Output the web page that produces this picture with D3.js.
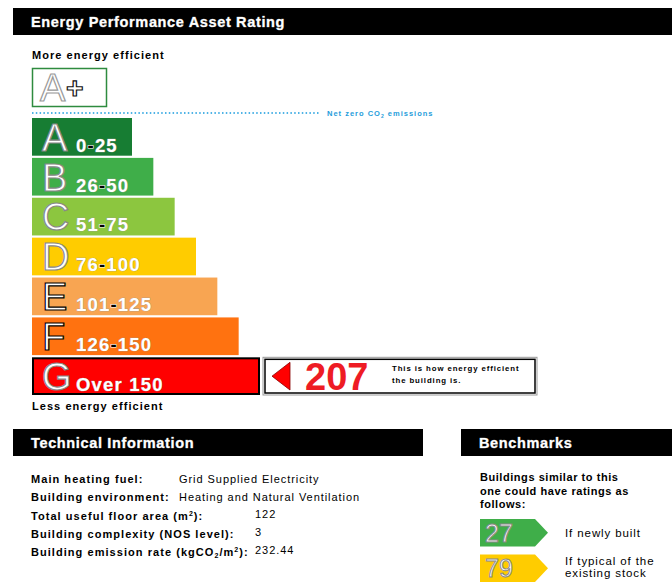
<!DOCTYPE html>
<html>
<head>
<meta charset="utf-8">
<script src="https://cdn.jsdelivr.net/npm/d3@7"></script>
<style>
  body { margin: 0; background: #fff; }
  text { font-family: "Liberation Sans", Arial, sans-serif; }
</style>
</head>
<body>
<div id="chart"></div>
<script>
// rating bands, top (best) to bottom (worst)
var bandLetters = ['A', 'B', 'C', 'D', 'E', 'F', 'G'];
var bandRanges = ['0-25', '26-50', '51-75', '76-100', '101-125', '126-150', 'Over 150'];
var bandColors = ['#177d33', '#3fae49', '#8cc63f', '#ffcc00', '#f8a552', '#ff7210', '#ff0000'];
var rating = 207;
var ratingBand = 'G';

var benchValues = [27, 79];
var benchColors = ['#3fae49', '#ffcc00'];
var benchLabels = [['If newly built'], ['If typical of the', 'existing stock']];

var techLabels = ['Main heating fuel:', 'Building environment:', 'Total useful floor area (m²):',
                  'Building complexity (NOS level):', 'Building emission rate (kgCO₂/m²):'];
var techValues = ['Grid Supplied Electricity', 'Heating and Natural Ventilation', '122', '3', '232.44'];

var W = 672, H = 583;
var svg = d3.select('#chart').append('svg')
  .attr('width', W)
  .attr('height', H);

// header bars
function header(x, y, w, label) {
  svg.append('rect').attr('x', x).attr('y', y).attr('width', w).attr('height', 27).attr('fill', '#000');
  svg.append('text')
    .attr('x', x + 18).attr('y', y + 19)
    .attr('fill', '#fff').attr('stroke', '#999').attr('stroke-width', 0.6)
    .style('paint-order', 'stroke')
    .style('font-weight', 'bold').style('font-size', '14.5px')
    .style('letter-spacing', '0.65px')
    .text(label);
}
header(13, 8, 659, 'Energy Performance Asset Rating');
header(13, 429, 410, 'Technical Information');
header(461, 429, 211, 'Benchmarks');

svg.append('text').attr('x', 32).attr('y', 59)
  .style('font-weight', 'bold').style('font-size', '11px').style('letter-spacing', '1.05px')
  .text('More energy efficient');

// A+ box
svg.append('rect').attr('x', 32.5).attr('y', 68.5).attr('width', 74).attr('height', 38)
  .attr('fill', '#fff').attr('stroke', '#2e8b3f').attr('stroke-width', 1.5);
svg.append('text').attr('x', 40).attr('y', 101)
  .attr('fill', '#fff').attr('stroke', '#999').attr('stroke-width', 1.2)
  .style('font-size', '38px').text('A');
svg.append('text').attr('x', 66).attr('y', 98)
  .attr('fill', '#fff').attr('stroke', '#111').attr('stroke-width', 1.2)
  .style('font-weight', 'bold').style('font-size', '30px').text('+');

// net zero line
svg.append('line').attr('x1', 32).attr('x2', 320).attr('y1', 113).attr('y2', 113)
  .attr('stroke', '#4fb3e6').attr('stroke-width', 2).attr('stroke-dasharray', '1.5,2.3');
var nz = svg.append('text').attr('x', 327).attr('y', 116)
  .attr('fill', '#1f9ddb').style('font-weight', 'bold').style('font-size', '7.5px')
  .style('letter-spacing', '1px');
nz.append('tspan').text('Net zero CO');
nz.append('tspan').attr('dy', 2).style('font-size', '5px').text('2');
nz.append('tspan').attr('dy', -2).text(' emissions');

// scales for bands
var y = d3.scaleBand().domain(bandLetters).range([118, 395]).paddingInner(0.055);
var w = d3.scaleLinear().domain([0, 6]).range([100, 228]);
var x0 = 32;

var bands = svg.selectAll('g.band').data(bandLetters).enter().append('g').classed('band', true);
bands.append('rect')
  .attr('x', function(d) { return d === ratingBand ? x0 + 1 : x0; })
  .attr('y', function(d) { return d === ratingBand ? y(d) + 1 : y(d); })
  .attr('width', function(d, i) { return d === ratingBand ? w(i) - 2 : w(i); })
  .attr('height', function(d) { return d === ratingBand ? y.bandwidth() - 2 : y.bandwidth(); })
  .attr('fill', function(d, i) { return bandColors[i]; })
  .attr('stroke', function(d) { return d === ratingBand ? '#000' : 'none'; })
  .attr('stroke-width', 2);
bands.append('text')
  .attr('x', x0 + 10)
  .attr('y', function(d) { return y(d) + y.bandwidth() - 5; })
  .attr('fill', '#fff')
  .attr('stroke', function(d, i) { return (i === 4 || i === 5) ? '#000' : '#888'; })
  .attr('stroke-width', 1.2)
  .style('font-size', '38px')
  .text(function(d) { return d; });
var rt = bands.append('text')
  .attr('x', x0 + 44)
  .attr('y', function(d) { return y(d) + y.bandwidth() - 4; })
  .attr('fill', '#fff').attr('stroke', '#999').attr('stroke-width', 0.6)
  .style('paint-order', 'stroke')
  .style('font-weight', 'bold').style('font-size', '18.5px')
  .style('letter-spacing', '1.2px');
rt.each(function(d, i) {
  var t = d3.select(this);
  var parts = bandRanges[i].split('-');
  t.append('tspan').text(parts[0]);
  if (parts.length > 1) {
    t.append('tspan').attr('fill', '#000').attr('stroke', '#fff').attr('stroke-width', 1.2).text('-');
    t.append('tspan').text(parts[1]);
  }
});

svg.append('text').attr('x', 32).attr('y', 410)
  .style('font-weight', 'bold').style('font-size', '11px').style('letter-spacing', '1.05px')
  .text('Less energy efficient');

// rating marker
var ri = bandLetters.indexOf(ratingBand);
var rx = x0 + w(ri) + 3, ry = y(ratingBand);
svg.append('rect').attr('x', rx).attr('y', ry).attr('width', 274).attr('height', y.bandwidth())
  .attr('fill', '#fff').attr('stroke', '#999').attr('stroke-width', 1);
svg.append('rect').attr('x', rx + 2).attr('y', ry + 2).attr('width', 270).attr('height', y.bandwidth() - 4)
  .attr('fill', 'none').attr('stroke', '#000').attr('stroke-width', 1.5);
svg.append('path')
  .attr('d', 'M' + (rx + 9) + ',' + (ry + y.bandwidth() / 2) +
             'L' + (rx + 27) + ',' + (ry + 5) + 'L' + (rx + 27) + ',' + (ry + y.bandwidth() - 5) + 'Z')
  .attr('fill', '#ff0000').attr('stroke', '#800').attr('stroke-width', 0.8);
svg.append('text').attr('x', rx + 42).attr('y', ry + y.bandwidth() - 5)
  .attr('fill', '#ee1c24').style('font-weight', 'bold').style('font-size', '38px')
  .text(rating);
svg.append('text').attr('x', rx + 129).attr('y', ry + 14)
  .style('font-weight', 'bold').style('font-size', '7.8px').style('letter-spacing', '0.9px')
  .text('This is how energy efficient');
svg.append('text').attr('x', rx + 129).attr('y', ry + 26)
  .style('font-weight', 'bold').style('font-size', '7.8px').style('letter-spacing', '0.9px')
  .text('the building is.');

// technical information
var techY = [483, 501, 520, 538, 556];
techLabels.forEach(function(l, i) {
  var t = svg.append('text').attr('x', 31).attr('y', techY[i])
    .style('font-weight', 'bold').style('font-size', '11px').style('letter-spacing', '1.05px');
  if (i === 2) {
    t.text('Total useful floor area (m');
    t.append('tspan').attr('dy', -4).style('font-size', '7px').text('2');
    t.append('tspan').attr('dy', 4).text('):');
  } else if (i === 4) {
    t.text('Building emission rate (kgCO');
    t.append('tspan').attr('dy', 2).style('font-size', '7px').text('2');
    t.append('tspan').attr('dy', -2).text('/m');
    t.append('tspan').attr('dy', -4).style('font-size', '7px').text('2');
    t.append('tspan').attr('dy', 4).text('):');
  } else {
    t.text(l);
  }
  svg.append('text').attr('x', i < 2 ? 179 : 255).attr('y', i < 2 ? techY[i] : techY[i] - 2)
    .style('font-size', '11px').style('letter-spacing', '0.95px').text(techValues[i]);
});

// benchmarks
['Buildings similar to this', 'one could have ratings as', 'follows:'].forEach(function(l, i) {
  svg.append('text').attr('x', 480).attr('y', 481 + i * 13.5)
    .style('font-weight', 'bold').style('font-size', '11px').style('letter-spacing', '0.55px').text(l);
});
var by = d3.scaleBand().domain(d3.range(benchValues.length)).range([519, 582]).paddingInner(0.222);
var bh = by.bandwidth();
benchValues.forEach(function(v, i) {
  var top = by(i);
  svg.append('path')
    .attr('d', 'M480,' + top + 'L535,' + top + 'L548,' + (top + bh / 2) + 'L535,' + (top + bh) + 'L480,' + (top + bh) + 'Z')
    .attr('fill', benchColors[i]);
  svg.append('text').attr('x', 485).attr('y', top + bh - 5)
    .attr('fill', '#fff').attr('stroke', '#888').attr('stroke-width', 1)
    .style('font-size', '25px').text(v);
  benchLabels[i].forEach(function(l, j) {
    svg.append('text').attr('x', 565)
      .attr('y', benchLabels[i].length === 1 ? top + bh / 2 + 4 : top + 11 + j * 12)
      .style('font-size', '11.5px').style('letter-spacing', '0.9px').text(l);
  });
});
</script>
</body>
</html>
